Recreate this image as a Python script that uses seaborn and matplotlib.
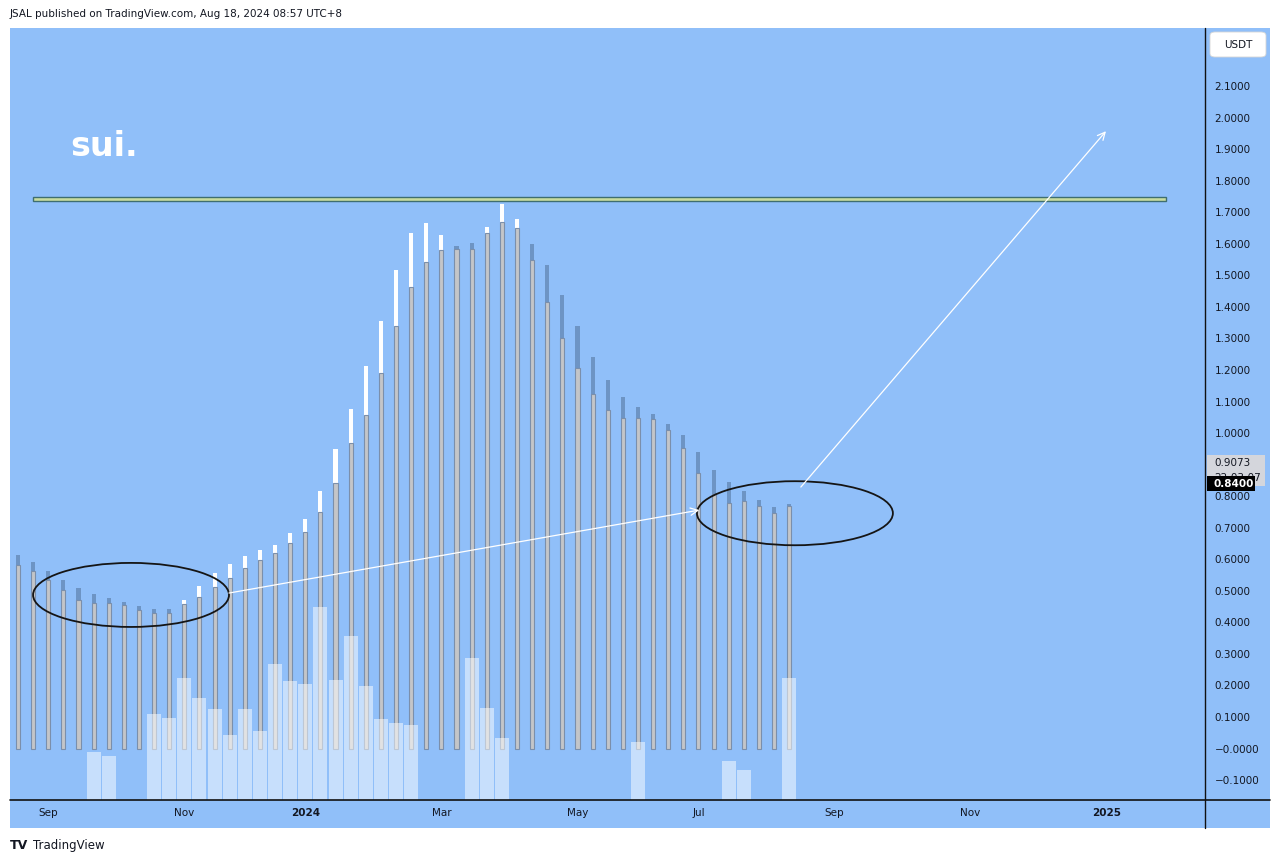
import numpy as np
import pandas as pd
import matplotlib
matplotlib.use("Agg")
import matplotlib.pyplot as plt
import matplotlib.dates as mdates
from matplotlib.patches import Ellipse, Rectangle, FancyBboxPatch
from matplotlib.lines import Line2D
import seaborn as sns

# ---------------- data ----------------
week_start = "2023-08-21"
opens = [0.613, 0.591, 0.563, 0.534, 0.509, 0.490, 0.477, 0.464, 0.452, 0.443,
         0.443, 0.458, 0.480, 0.512, 0.540, 0.572, 0.597, 0.620, 0.651, 0.686,
         0.750, 0.842, 0.967, 1.057, 1.190, 1.339, 1.463, 1.542, 1.580, 1.593,
         1.602, 1.634, 1.669, 1.650, 1.600, 1.533, 1.437, 1.339, 1.241, 1.168,
         1.114, 1.082, 1.060, 1.029, 0.994, 0.940, 0.883, 0.845, 0.816, 0.788,
         0.766, 0.775]
closes = [0.582, 0.563, 0.534, 0.502, 0.471, 0.461, 0.461, 0.455, 0.439, 0.430,
          0.430, 0.471, 0.515, 0.556, 0.585, 0.610, 0.629, 0.645, 0.683, 0.727,
          0.816, 0.949, 1.076, 1.212, 1.355, 1.517, 1.635, 1.667, 1.628, 1.583,
          1.583, 1.653, 1.726, 1.679, 1.549, 1.415, 1.301, 1.206, 1.124, 1.073,
          1.048, 1.048, 1.044, 1.010, 0.952, 0.873, 0.806, 0.778, 0.784, 0.769,
          0.746, 0.769]
volumes = [0, 0, 0, 0, 0, 48, 44, 0, 0, 86,
           82, 122, 102, 91, 65, 91, 69, 136, 119, 116,
           193, 120, 164, 114, 81, 77, 75, 0, 0, 0,
           142, 92, 62, 0, 0, 0, 0, 0, 0, 0,
           0, 58, 0, 0, 0, 0, 0, 39, 30, 0,
           0, 122]
tick_dates = ["2023-09-04", "2023-11-06", "2024-01-01", "2024-03-04", "2024-05-06",
              "2024-07-01", "2024-09-02", "2024-11-04", "2025-01-06"]
tick_labels = ["Sep", "Nov", "2024", "Mar", "May", "Jul", "Sep", "Nov", "2025"]
price_ticks = [-0.1, 0.0, 0.1, 0.2, 0.3, 0.4, 0.5, 0.6, 0.7, 0.8, 0.9, 1.0,
               1.1, 1.2, 1.3, 1.4, 1.5, 1.6, 1.7, 1.8, 1.9, 2.0, 2.1]
price_labels = ["\u22120.1000", "\u22120.0000", "0.1000", "0.2000", "0.3000", "0.4000",
                "0.5000", "0.6000", "0.7000", "0.8000", "", "1.0000", "1.1000",
                "1.2000", "1.3000", "1.4000", "1.5000", "1.6000", "1.7000",
                "1.8000", "1.9000", "2.0000", "2.1000"]

# drawings (date, price)
ellipse_centers = [("2023-10-12 08:00", 0.487), ("2024-08-14 16:00", 0.746)]
ellipse_size = (90.7, 0.203)  # days, price
line1 = [("2023-11-26 16:00", 0.493), ("2024-07-01 10:00", 0.756)]
line2 = [("2024-08-17 10:00", 0.829), ("2025-01-05 16:00", 1.957)]
zone = [("2023-08-27 22:00", 1.735), ("2025-02-02 12:00", 1.748)]

# ---------------- figure ----------------
W, H = 1281, 863
sns.set_theme(style="white")
plt.rcParams['font.family'] = ['DejaVu Sans']
TXT = "#131722"
BG = "#90bff9"

dates = pd.date_range(week_start, periods=len(opens), freq="7D")
xnum = mdates.date2num(dates)
df = pd.DataFrame({"x": xnum, "open": opens, "close": closes, "volume": volumes})
df["hi"] = df[["open", "close"]].max(axis=1)
df["lo"] = df[["open", "close"]].min(axis=1)
df["dir"] = np.where(df["close"] >= df["open"], "up", "down")

fig = plt.figure(figsize=(W / 100, H / 100), dpi=100, facecolor="white")
fig.patches.append(Rectangle((10 / W, 1 - 828 / H), 1260 / W, 800 / H,
                             transform=fig.transFigure, facecolor=BG,
                             edgecolor="none", zorder=-5))

ax = fig.add_axes([10 / W, 1 - 800 / H, 1195 / W, 772 / H])
ax.set_facecolor("none")

sns.barplot(data=df, x="x", y="hi", hue="dir",
            palette={"up": "#ffffff", "down": "#6d94c4"},
            native_scale=True, width=0.27, saturation=1, linewidth=0,
            errorbar=None, legend=False, dodge=False, ax=ax, zorder=2)
sns.barplot(data=df, x="x", y="lo", color="#c4c5c8",
            native_scale=True, width=0.27, saturation=1, linewidth=0.8,
            edgecolor="#7b8fab", errorbar=None, ax=ax, zorder=3)

x0 = mdates.date2num(pd.Timestamp(week_start))
xlim = (x0 - 3.7, x0 + 549.5)
ylim = (-0.163, 2.284)

# drawings
for c in ellipse_centers:
    e = Ellipse((mdates.date2num(pd.Timestamp(c[0])), c[1]),
                ellipse_size[0], ellipse_size[1], facecolor="none",
                edgecolor="#151515", lw=1.3, zorder=5)
    ax.add_patch(e)
for ln in (line1, line2):
    (d0, p0), (d1, p1) = ln
    ax.annotate("", xy=(mdates.date2num(pd.Timestamp(d1)), p1),
                xytext=(mdates.date2num(pd.Timestamp(d0)), p0),
                arrowprops=dict(arrowstyle="->,head_length=0.45,head_width=0.22",
                                color="white", lw=0.9, shrinkA=0, shrinkB=0),
                zorder=6)
zx0 = mdates.date2num(pd.Timestamp(zone[0][0]))
zx1 = mdates.date2num(pd.Timestamp(zone[1][0]))
ax.add_patch(Rectangle((zx0, zone[0][1]), zx1 - zx0, zone[1][1] - zone[0][1],
                       facecolor="#c8dca0", edgecolor="#3f6e70", lw=1.0, zorder=5))

# volume
ax2 = ax.twinx()
sns.barplot(data=df, x="x", y="volume", color="white", alpha=0.5,
            native_scale=True, width=0.93, saturation=1, linewidth=0,
            errorbar=None, ax=ax2, zorder=4)
ax2.set_ylim(0, 772)
ax2.set_yticks([])
ax2.set_ylabel("")
ax2.set_xlabel("")
for s in ax2.spines.values():
    s.set_visible(False)

# axes styling
ax.set_xlim(*xlim)
ax2.set_xlim(*xlim)
ax.set_ylim(*ylim)
ax.set_xlabel("")
ax.set_ylabel("")
ax.yaxis.tick_right()
ax.set_yticks(price_ticks)
ax.set_yticklabels(price_labels)
ax.set_xticks(mdates.date2num(pd.to_datetime(tick_dates)))
ax.set_xticklabels(tick_labels)
ax.tick_params(axis="y", length=0, pad=7, labelsize=7.5, colors=TXT)
ax.tick_params(axis="x", length=0, pad=6, labelsize=7.5, colors=TXT)
for t in ax.get_xticklabels():
    if t.get_text() in ("2024", "2025"):
        t.set_fontweight("bold")
for side in ("top", "left", "right", "bottom"):
    ax.spines[side].set_visible(False)
ax.grid(False)

# frame lines
fig.lines.append(Line2D([1205 / W, 1205 / W], [1 - 28 / H, 1 - 828 / H],
                        transform=fig.transFigure, color="#111111", lw=1.0))
fig.lines.append(Line2D([10 / W, 1270 / W], [1 - 800 / H, 1 - 800 / H],
                        transform=fig.transFigure, color="#111111", lw=1.2))

# right-axis labels
fig.patches.append(FancyBboxPatch((1210 / W, 1 - 57 / H), 56 / W, 25 / H,
                                  boxstyle="round,pad=0,rounding_size=0.004",
                                  transform=fig.transFigure, facecolor="white",
                                  edgecolor="#d6d6d6", lw=0.6, zorder=3))
fig.text(1238 / W, 1 - 44.5 / H, "USDT", ha="center", va="center",
         fontsize=7.5, color=TXT, zorder=4)

fig.patches.append(Rectangle((1207 / W, 1 - 486 / H), 58 / W, 31 / H,
                             transform=fig.transFigure, facecolor="#d4d6dc",
                             edgecolor="none", zorder=3))
fig.text(1214 / W, 1 - 463 / H, "0.9073", ha="left", va="center",
         fontsize=7.5, color=TXT, zorder=4)
fig.text(1214 / W, 1 - 478 / H, "22:03:07", ha="left", va="center",
         fontsize=7.5, color=TXT, zorder=4)
fig.patches.append(Rectangle((1207 / W, 1 - 491 / H), 48 / W, 15 / H,
                             transform=fig.transFigure, facecolor="#000000",
                             edgecolor="none", zorder=5))
fig.text(1213 / W, 1 - 483.5 / H, "0.8400", ha="left", va="center",
         fontsize=7.5, color="white", fontweight="bold", zorder=6)

# texts
fig.text(70 / W, 1 - 156 / H, "sui.", ha="left", va="baseline",
         fontsize=24, fontweight="bold", color="white")
fig.text(10 / W, 1 - 14 / H, "JSAL published on TradingView.com, Aug 18, 2024 08:57 UTC+8",
         ha="left", va="center", fontsize=7.5, color=TXT)
fig.text(10 / W, 1 - 845 / H, "TV", ha="left", va="center",
         fontsize=9, fontweight="heavy", color=TXT)
fig.text(33 / W, 1 - 845 / H, "TradingView", ha="left", va="center",
         fontsize=8.5, color=TXT)

fig.savefig("out.png", dpi=100, facecolor="white")
